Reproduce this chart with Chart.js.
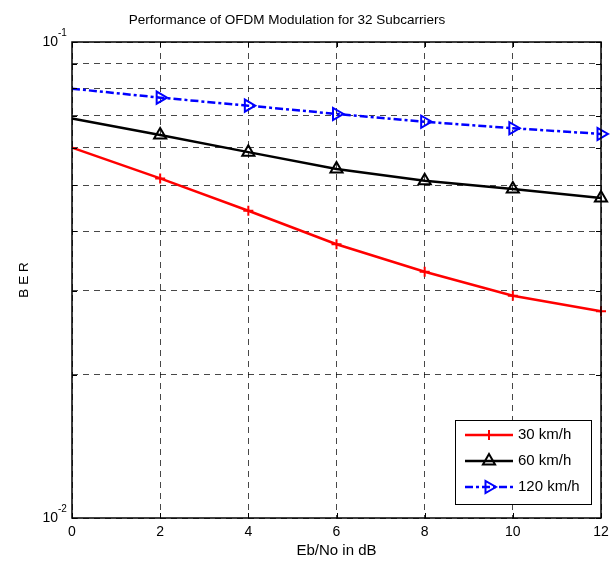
<!DOCTYPE html>
<html><head><meta charset="utf-8">
<script src="https://cdn.jsdelivr.net/npm/chart.js@4"></script>
<style>html,body{margin:0;padding:0;background:#fff}#wrap{width:612px;height:566px}</style>
</head><body><div id="wrap"><canvas id="c" width="612" height="566"></canvas></div>
<script>
const snr = [0, 2, 4, 6, 8, 10, 12];
const ber30 = [0.0600, 0.0517, 0.0442, 0.0376, 0.0329, 0.0293, 0.0272];
const ber60 = [0.0691, 0.0638, 0.0587, 0.0541, 0.0511, 0.0491, 0.0470];
const ber120 = [0.0798, 0.0764, 0.0735, 0.0706, 0.0680, 0.0659, 0.0641];
const seriesLabels = ['30 km/h', '60 km/h', '120 km/h'];
const xTicks = [0, 2, 4, 6, 8, 10, 12];
const yTicks = [0.01, 0.02, 0.03, 0.04, 0.05, 0.06, 0.07, 0.08, 0.09, 0.1];
const yLabelTicks = [{value: 0.1, base: '10', exp: '-1'}, {value: 0.01, base: '10', exp: '-2'}];
const titleText = 'Performance of OFDM Modulation for 32 Subcarriers';
const xTitle = 'Eb/No in dB';
const yTitle = 'B E R';

const FONT = "'Liberation Sans', Arial, Helvetica, sans-serif";

function pts(ys) { return snr.map((x, i) => ({x: x, y: ys[i]})); }

const datasets = [
  {label: seriesLabels[0], data: pts(ber30), borderColor: '#ff0000', borderWidth: 2.5,
   pointStyle: 'cross', radius: 5, pointBorderWidth: 2, pointBorderColor: '#ff0000',
   borderDash: [], rotation: 0},
  {label: seriesLabels[1], data: pts(ber60), borderColor: '#000000', borderWidth: 2.5,
   pointStyle: 'triangle', radius: 7, pointBorderWidth: 2, pointBorderColor: '#000000',
   borderDash: [], rotation: 0},
  {label: seriesLabels[2], data: pts(ber120), borderColor: '#0000ff', borderWidth: 2.5,
   pointStyle: 'triangle', radius: 7, pointBorderWidth: 2, pointBorderColor: '#0000ff',
   borderDash: [8, 3, 3, 3], rotation: 90}
].map(d => Object.assign(d, {
  fill: false, tension: 0, clip: false, pointRotation: d.rotation,
  pointBackgroundColor: 'rgba(0,0,0,0)',
  pointRadius: ctx => (ctx.dataIndex === 0 ? 0 : d.radius)
}));

const frame = {
  id: 'frame',
  afterDraw(chart) {
    const ctx = chart.ctx, a = chart.chartArea;
    const xs = chart.scales.x, ys = chart.scales.y;
    ctx.save();
    // title
    ctx.fillStyle = '#000';
    ctx.font = '13.5px ' + FONT; ctx.textAlign = 'center'; ctx.textBaseline = 'middle';
    ctx.fillText(titleText, 287, 20);
    // box
    ctx.strokeStyle = '#000'; ctx.lineWidth = 1.5; ctx.setLineDash([]);
    ctx.strokeRect(a.left, a.top, a.right - a.left, a.bottom - a.top);
    ctx.lineWidth = 1;
    ctx.beginPath();
    yTicks.forEach(v => {
      const y = Math.round(ys.getPixelForValue(v)) + 0.5;
      ctx.moveTo(a.left, y); ctx.lineTo(a.left + 5, y);
      ctx.moveTo(a.right, y); ctx.lineTo(a.right - 5, y);
    });
    xTicks.forEach(v => {
      const x = Math.round(xs.getPixelForValue(v)) + 0.5;
      ctx.moveTo(x, a.bottom); ctx.lineTo(x, a.bottom - 5);
      ctx.moveTo(x, a.top); ctx.lineTo(x, a.top + 5);
    });
    ctx.stroke();
    yLabelTicks.forEach(t => {
      const y = ys.getPixelForValue(t.value);
      ctx.font = '14px ' + FONT;
      ctx.textAlign = 'right'; ctx.textBaseline = 'middle';
      ctx.fillText(t.base, 58, y);
      ctx.font = '10px ' + FONT;
      ctx.textAlign = 'left';
      ctx.fillText(t.exp, 58, y - 9);
    });
    const lw = 136, lh = 84;
    const lx = a.right - 10 - lw, ly = a.bottom - 14 - lh;
    ctx.fillStyle = '#fff';
    ctx.fillRect(lx, ly, lw, lh);
    ctx.strokeStyle = '#000'; ctx.lineWidth = 1;
    ctx.strokeRect(lx + 0.5, ly + 0.5, lw, lh);
    chart.data.datasets.forEach((d, i) => {
      const y = ly + 15 + i * 26;
      ctx.strokeStyle = d.borderColor; ctx.lineWidth = d.borderWidth;
      ctx.setLineDash(d.borderDash || []);
      ctx.beginPath(); ctx.moveTo(lx + 10, y); ctx.lineTo(lx + 58, y); ctx.stroke();
      ctx.setLineDash([]);
      if (Chart.helpers && Chart.helpers.drawPoint) {
        ctx.strokeStyle = d.pointBorderColor; ctx.fillStyle = 'rgba(0,0,0,0)';
        ctx.lineWidth = d.pointBorderWidth;
        Chart.helpers.drawPoint(ctx, {pointStyle: d.pointStyle, rotation: d.rotation,
          radius: d.radius, borderWidth: d.pointBorderWidth}, lx + 34, y);
      }
      ctx.fillStyle = '#000';
      ctx.font = '15px ' + FONT; ctx.textAlign = 'left'; ctx.textBaseline = 'middle';
      ctx.fillText(d.label, lx + 63, y);
    });
    ctx.restore();
  }
};

new Chart(document.getElementById('c'), {
  type: 'line',
  data: {datasets: datasets},
  options: {
    responsive: false, animation: false, devicePixelRatio: 1,
    layout: {padding: {left: 0, right: 11, top: 42, bottom: 0}},
    plugins: {
      legend: {display: false},
      tooltip: {enabled: false},
      title: {display: false}
    },
    scales: {
      x: {
        type: 'linear', min: 0, max: 12,
        afterBuildTicks: s => { s.ticks = xTicks.map(v => ({value: v})); },
        afterFit: s => { s.height = 48; s.paddingLeft = 0; s.paddingRight = 0; },
        ticks: {color: '#000', padding: 6, font: {family: FONT, size: 14}, maxRotation: 0,
          callback: v => String(v)},
        grid: {color: 'rgba(0,0,0,0.72)', lineWidth: 1, drawTicks: false},
        border: {display: false, dash: [6, 5]},
        title: {display: true, text: xTitle, color: '#000',
          font: {family: FONT, size: 15}, padding: {top: 0, bottom: 6}}
      },
      y: {
        type: 'logarithmic', min: 0.01, max: 0.1,
        afterBuildTicks: s => { s.ticks = yTicks.map(v => ({value: v})); },
        afterFit: s => { s.width = 72; s.paddingTop = 0; s.paddingBottom = 0; },
        ticks: {display: false},
        grid: {color: 'rgba(0,0,0,0.72)', lineWidth: 1, drawTicks: false},
        border: {display: false, dash: [6, 5]},
        title: {display: true, text: yTitle, color: '#000',
          font: {family: FONT, size: 13.5}, padding: {top: 16, bottom: 0}}
      }
    }
  },
  plugins: [frame]
});
</script>
</body></html>
